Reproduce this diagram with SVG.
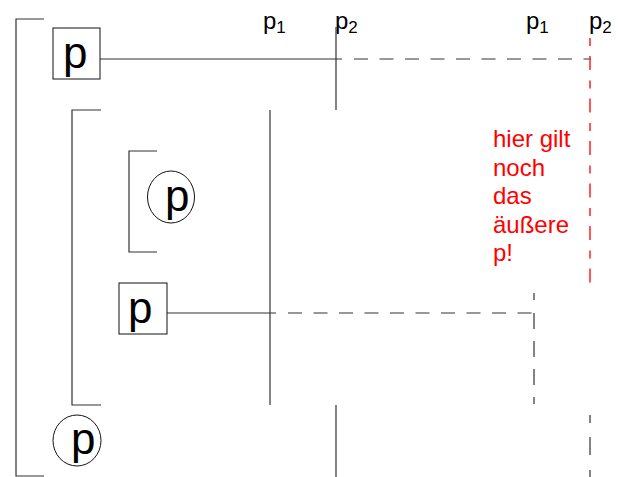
<svg xmlns="http://www.w3.org/2000/svg" width="626" height="477" viewBox="0 0 626 477">
<style>
.ln{stroke:#333;stroke-width:1.2;fill:none}
.dash{stroke:#333;stroke-width:1.2;fill:none;stroke-dasharray:14 11.5}
.red{stroke:#ff2020;stroke-width:1.5;fill:none;stroke-dasharray:14 10.5}
.node{stroke:#111;stroke-width:1;fill:#fff}
.big{font-family:"Liberation Sans",Arial,sans-serif;font-size:44px;fill:#000}
.lab{font-family:"Liberation Sans",Arial,sans-serif;font-size:24px;fill:#000}
.sub{font-size:17px}
.note{font-family:"Liberation Sans",Arial,sans-serif;font-size:24px;fill:#ff0000}
</style>
<rect width="626" height="477" fill="#fff"/>
<g id="brackets">
<path class="ln" d="M44 19H16V476H44"/>
<path class="ln" d="M101 110H72V405H101"/>
<path class="ln" d="M157 151H129V252H157"/>
</g>
<g id="labels">
<text class="lab" x="263" y="29">p<tspan class="sub" dy="4">1</tspan></text>
<text class="lab" x="335" y="29">p<tspan class="sub" dy="4">2</tspan></text>
<text class="lab" x="526" y="29">p<tspan class="sub" dy="4">1</tspan></text>
<text class="lab" x="589" y="29">p<tspan class="sub" dy="4">2</tspan></text>
</g>
<g id="connectors">
<line class="ln" x1="336" y1="27" x2="336" y2="110"/>
<line class="ln" x1="336" y1="405" x2="336" y2="477"/>
<line class="ln" x1="270" y1="110" x2="270" y2="405"/>
<line class="ln" x1="100" y1="59" x2="342" y2="59"/>
<line class="dash" x1="354" y1="59" x2="591" y2="59"/>
<line class="ln" x1="167" y1="313" x2="276" y2="313"/>
<line class="dash" x1="288" y1="313" x2="534" y2="313"/>
<line class="dash" x1="534" y1="293" x2="534" y2="406" style="stroke-dasharray:7 13 16 12 16 12 16 12"/>
<line class="red" x1="590" y1="38" x2="590" y2="283" style="stroke-dasharray:8 10 14 10.5"/>
<line class="dash" x1="590" y1="415" x2="590" y2="477" style="stroke-dasharray:8 14 18 15"/>
</g>
<g id="node-box-top">
<rect class="node" x="53" y="28" width="47" height="51"/>
<text class="big" x="63" y="68">p</text>
</g>
<g id="node-circle-inner">
<ellipse class="node" cx="171" cy="197" rx="23.5" ry="26"/>
<text class="big" x="165" y="211">p</text>
</g>
<g id="node-box-inner">
<rect class="node" x="119" y="283" width="48" height="51"/>
<text class="big" x="128" y="323">p</text>
</g>
<g id="node-circle-bottom">
<ellipse class="node" cx="77" cy="440.5" rx="24" ry="25.5"/>
<text class="big" x="71" y="454">p</text>
</g>
<g id="note">
<text class="note" x="493" y="147">hier gilt</text>
<text class="note" x="493" y="176">noch</text>
<text class="note" x="493" y="204">das</text>
<text class="note" x="493" y="233">äußere</text>
<text class="note" x="493" y="261">p!</text>
</g>
</svg>
